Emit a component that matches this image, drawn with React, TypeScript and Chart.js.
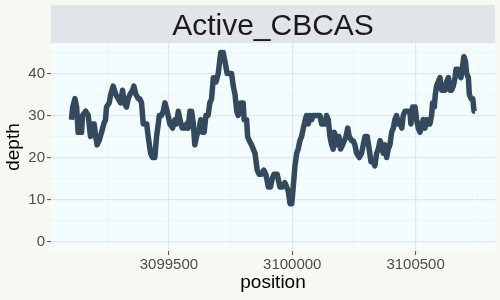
import { useEffect, useRef } from "react";
import { Chart, registerables } from "chart.js";

Chart.register(...registerables);

const TITLE = "Active_CBCAS";
const X_LABEL = "position";
const Y_LABEL = "depth";

const positions = [
  3099105, 3099110, 3099119, 3099126, 3099132, 3099146, 3099150, 3099163, 3099173, 3099182,
  3099191, 3099197, 3099203, 3099209, 3099217, 3099227, 3099236, 3099243, 3099247, 3099258,
  3099264, 3099274, 3099285, 3099294, 3099304, 3099312, 3099319, 3099328, 3099335, 3099342,
  3099353, 3099358, 3099366, 3099376, 3099382, 3099389, 3099396, 3099410, 3099416, 3099426,
  3099434, 3099443, 3099450, 3099457, 3099461, 3099470, 3099477, 3099484, 3099493, 3099504,
  3099515, 3099524, 3099531, 3099538, 3099545, 3099554, 3099565, 3099572, 3099578, 3099585,
  3099592, 3099599, 3099605, 3099612, 3099623, 3099629, 3099635, 3099643, 3099650, 3099659,
  3099666, 3099673, 3099680, 3099691, 3099700, 3099710, 3099720, 3099730, 3099736, 3099747,
  3099754, 3099761, 3099768, 3099775, 3099781, 3099791, 3099801, 3099805, 3099815, 3099819,
  3099826, 3099835, 3099842, 3099849, 3099858, 3099866, 3099876, 3099885, 3099893, 3099903,
  3099912, 3099919, 3099926, 3099939, 3099950, 3099959, 3099970, 3099977, 3099984, 3099991,
  3099998, 3100004, 3100011, 3100018, 3100024, 3100031, 3100038, 3100045, 3100051, 3100058,
  3100065, 3100072, 3100079, 3100085, 3100099, 3100112, 3100119, 3100133, 3100139, 3100146,
  3100153, 3100160, 3100166, 3100170, 3100177, 3100182, 3100189, 3100196, 3100204, 3100211,
  3100218, 3100225, 3100231, 3100241, 3100247, 3100254, 3100261, 3100272, 3100281, 3100288,
  3100295, 3100304, 3100312, 3100319, 3100328, 3100335, 3100342, 3100349, 3100356, 3100362,
  3100369, 3100376, 3100383, 3100389, 3100396, 3100403, 3100410, 3100416, 3100423, 3100430,
  3100437, 3100444, 3100450, 3100457, 3100464, 3100470, 3100477, 3100481, 3100488, 3100498,
  3100504, 3100511, 3100518, 3100525, 3100531, 3100538, 3100545, 3100551, 3100558, 3100565,
  3100569, 3100576, 3100580, 3100585, 3100592, 3100599, 3100606, 3100619, 3100626, 3100633,
  3100639, 3100646, 3100653, 3100660, 3100664, 3100671, 3100677, 3100684, 3100691, 3100696,
  3100702, 3100707, 3100714, 3100718, 3100725, 3100732, 3100737, 3100741,
];

const depths = [
  29, 32, 34, 32, 26, 26, 30, 31, 30, 25,
  28, 28, 25, 23, 24, 26, 28, 29, 32, 33,
  35, 37, 35, 34, 33, 36, 33, 32, 34, 35,
  36, 37, 35, 34, 34, 33, 28, 28, 25, 21,
  20, 20, 25, 28, 30, 30, 31, 33, 31, 28,
  27, 29, 28, 31, 29, 27, 27, 28, 27, 31,
  31, 28, 23, 25, 27, 29, 26, 26, 30, 30,
  33, 34, 39, 38, 40, 45, 45, 42, 40, 40,
  40, 37, 35, 31, 30, 33, 33, 29, 29, 25,
  24, 23, 22, 21, 17, 16, 16, 17, 16, 13,
  13, 15, 16, 16, 13, 13, 14, 13, 12, 9,
  9, 13, 18, 21, 22, 24, 25, 27, 28.5, 30,
  28, 30, 29, 30, 30, 30, 28, 28, 30, 29,
  25, 23, 22, 26, 25, 23, 25, 22, 23, 24,
  25, 27, 25, 24, 24, 23, 21, 20, 21, 23,
  25, 25, 22, 19, 19, 18, 21, 22, 24, 23,
  21, 23, 20, 22, 23, 26, 27, 29, 30, 28,
  28.5, 27, 30, 31, 31, 31, 31, 28, 32, 32,
  29, 27, 26, 28, 29, 27, 29, 28, 28, 30,
  33, 32, 35, 37, 38, 39, 36, 36, 38, 39,
  36, 36, 37, 39, 41, 41, 40, 39, 42, 44,
  43, 40, 39, 35, 34, 34, 31, 31,
];

const xMajorTicks = [3099500, 3100000, 3100500];
const xMinorTicks = [3099250, 3099750, 3100250, 3100750];
const yMajorTicks = [0, 10, 20, 30, 40];
const yMinorTicks = [5, 15, 25, 35, 45];

const X_MIN = 3099022;
const X_MAX = 3100822;
const Y_MIN = -2.25;
const Y_MAX = 47.25;

const FONT = "'Liberation Sans', Arial, Helvetica, sans-serif";

const backgroundPlugin = {
  id: "ggBackground",
  beforeDraw(chart: any) {
    const { ctx, chartArea: a, width, height } = chart;
    ctx.save();
    ctx.fillStyle = "#F8F8F3";
    ctx.fillRect(0, 0, width, height);
    ctx.fillStyle = "#F3FCFE";
    ctx.fillRect(a.left, a.top, a.right - a.left, a.bottom - a.top);
    ctx.fillStyle = "#E1E4E8";
    ctx.fillRect(a.left, 5, a.right - a.left, a.top - 5);
    ctx.fillStyle = "#1A1A1A";
    ctx.font = `30px ${FONT}`;
    ctx.textAlign = "center";
    ctx.textBaseline = "alphabetic";
    ctx.fillText(TITLE, (a.left + a.right) / 2, 35);
    ctx.restore();
  },
};

export default function App() {
  const ref = useRef<HTMLCanvasElement | null>(null);

  useEffect(() => {
    if (!ref.current) return;
    const points = positions.map((p, i) => ({ x: p, y: depths[i] }));
    const isMajorX = (v: number) => xMajorTicks.includes(v);
    const isMajorY = (v: number) => yMajorTicks.includes(v);

    const chart = new Chart(ref.current, {
      type: "line",
      data: {
        datasets: [
          {
            data: points,
            borderColor: "#34495E",
            borderWidth: 5.5,
            pointRadius: 0,
            tension: 0,
            borderJoinStyle: "round",
            borderCapStyle: "butt",
            fill: false,
          },
        ],
      },
      plugins: [backgroundPlugin],
      options: {
        animation: false,
        responsive: false,
        devicePixelRatio: 1,
        layout: { padding: { top: 43, right: 5, left: 0, bottom: 0 } },
        plugins: { legend: { display: false }, tooltip: { enabled: false } },
        scales: {
          x: {
            type: "linear",
            min: X_MIN,
            max: X_MAX,
            afterBuildTicks: (s: any) => {
              s.ticks = [...xMinorTicks, ...xMajorTicks]
                .sort((a, b) => a - b)
                .map((v) => ({ value: v }));
            },
            afterFit: (s: any) => {
              s.height = 49;
            },
            border: { display: false },
            grid: {
              color: (c: any) => (isMajorX(c.tick?.value) ? "#E1E7EB" : "#EBF1F3"),
              lineWidth: (c: any) => (isMajorX(c.tick?.value) ? 1.2 : 0.8),
              tickColor: (c: any) => (isMajorX(c.tick?.value) ? "#4D4D4D" : "rgba(0,0,0,0)"),
              tickLength: 4,
              tickWidth: 1,
            },
            ticks: {
              autoSkip: false,
              maxRotation: 0,
              padding: 1,
              color: "#4D4D4D",
              font: { family: FONT, size: 15 },
              callback: (v: any) => (isMajorX(Number(v)) ? String(v) : ""),
            },
            title: {
              display: true,
              text: X_LABEL,
              color: "#000000",
              font: { family: FONT, size: 19 },
              padding: { top: 0, bottom: 6 },
            },
          },
          y: {
            type: "linear",
            min: Y_MIN,
            max: Y_MAX,
            afterBuildTicks: (s: any) => {
              s.ticks = [...yMajorTicks, ...yMinorTicks]
                .sort((a, b) => a - b)
                .map((v) => ({ value: v }));
            },
            afterFit: (s: any) => {
              s.width = 51;
            },
            border: { display: false },
            grid: {
              color: (c: any) => (isMajorY(c.tick?.value) ? "#E1E7EB" : "#EBF1F3"),
              lineWidth: (c: any) => (isMajorY(c.tick?.value) ? 1.2 : 0.8),
              tickColor: (c: any) => (isMajorY(c.tick?.value) ? "#4D4D4D" : "rgba(0,0,0,0)"),
              tickLength: 4,
              tickWidth: 1,
            },
            ticks: {
              autoSkip: false,
              padding: 2,
              color: "#4D4D4D",
              font: { family: FONT, size: 15 },
              callback: (v: any) => (isMajorY(Number(v)) ? String(v) : ""),
            },
            title: {
              display: true,
              text: Y_LABEL,
              color: "#000000",
              font: { family: FONT, size: 19 },
              padding: { top: 2, bottom: 0 },
            },
          },
        },
      },
    });
    return () => chart.destroy();
  }, []);

  return (
    <div style={{ position: "absolute", left: 0, top: 0, width: 500, height: 300 }}>
      <canvas ref={ref} width={500} height={300} style={{ display: "block", width: 500, height: 300 }} />
    </div>
  );
}
